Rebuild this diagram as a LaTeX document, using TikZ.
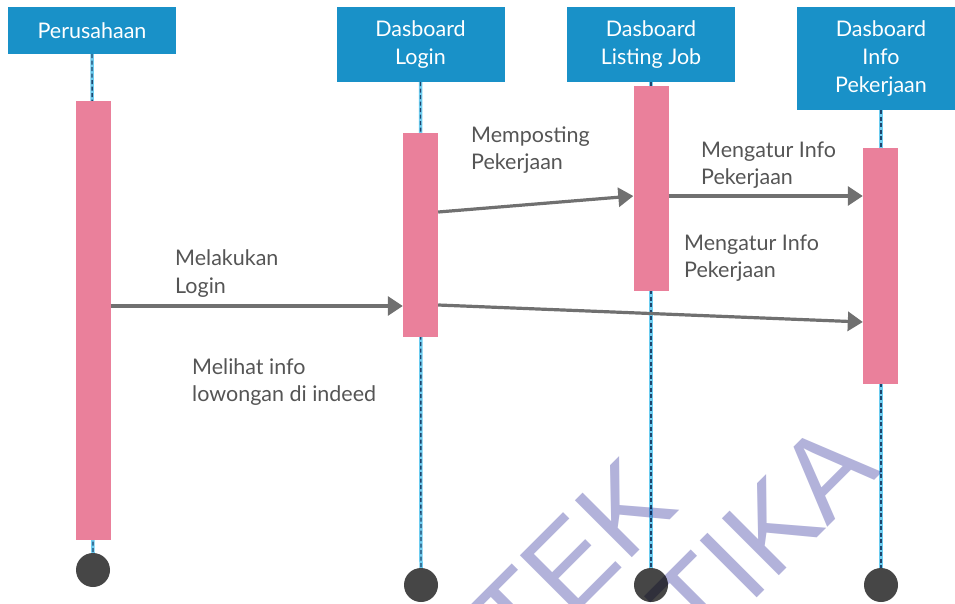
\documentclass[tikz,border=0pt]{standalone}
\usepackage{fontspec}
\setmainfont{Lato}
\newfontfamily\wmfont{Liberation Sans}
\usetikzlibrary{arrows.meta}
\definecolor{hdrblue}{RGB}{25,145,200}
\definecolor{barpink}{RGB}{234,128,155}
\definecolor{msggray}{RGB}{112,112,112}
\definecolor{txtgray}{RGB}{85,85,85}
\definecolor{endgray}{RGB}{70,70,70}
\definecolor{lifecyan}{RGB}{110,205,240}
\definecolor{lifedark}{RGB}{30,70,110}
\definecolor{wmblue}{RGB}{178,178,218}
\tikzset{
 hdr/.style={rectangle, fill=hdrblue, text=white, minimum width=168pt, inner sep=0pt, align=center, font=\fontsize{21.5}{28}\selectfont},
 actbar/.style={rectangle, fill=barpink, minimum width=35pt, inner sep=0pt},
 endpt/.style={circle, fill=endgray, minimum size=34pt, inner sep=0pt},
 lifeglow/.style={draw=lifecyan, line width=3.5pt},
 lifedash/.style={draw=lifedark, line width=1.4pt, dash pattern=on 4pt off 2.5pt},
 msg/.style={draw=msggray, line width=3.2pt, -{Triangle[length=15pt,width=19pt]}},
 lbl/.style={anchor=base west, inner sep=0pt, align=left, text=txtgray, font=\fontsize{21.5}{27.5}\selectfont},
 wm/.style={anchor=base west, inner sep=0pt, text=wmblue, rotate=45, font=\wmfont\fontsize{117}{117}\selectfont}
}
\begin{document}
\begin{tikzpicture}[x=1pt,y=-1pt]
\useasboundingbox (0,0) rectangle (955,603);
\clip (0,0) rectangle (955,603);
\fill[white] (0,0) rectangle (955,603);
% headers
\node[hdr, minimum height=47pt] (h1) at (92,30.5) {Perusahaan};
\node[hdr, minimum height=75pt] (h2) at (420.5,44.5) {Dasboard\\Login};
\node[hdr, minimum height=75pt] (h3) at (651,44.5) {Dasboard\\Listing Job};
\node[hdr, minimum height=103pt] (h4) at (881,58.5) {Dasboard\\Info\\Pekerjaan};
% end points
\node[endpt] (e1) at (93,570) {};
\node[endpt] (e2) at (421,585) {};
\node[endpt] (e3) at (651,585) {};
\node[endpt] (e4) at (881,585) {};
% lifelines
\foreach \i in {1,2,3,4}{
 \draw[lifeglow] (h\i.south) -- (e\i.north);
 \draw[lifedash] (h\i.south) -- (e\i.north);
}
% activation bars
\node[actbar, minimum height=439pt] (b1) at (93,320.5) {};
\node[actbar, minimum height=204pt] (b2) at (420.5,235) {};
\node[actbar, minimum height=205pt] (b3) at (651,188.5) {};
\node[actbar, minimum height=236pt] (b4) at (880.5,266) {};
% messages
\draw[msg] (b1.east |- 0,306) -- (b2.west |- 0,306);
\draw[msg] (b2.east |- 0,212) -- (b3.west |- 0,196);
\draw[msg] (b3.east |- 0,196) -- (b4.west |- 0,196);
\draw[msg] (b2.east |- 0,305) -- (b4.west |- 0,322);
% labels (anchor = baseline of last line)
\node[lbl] (l1) at (175,293) {Melakukan\\Login};
\node[lbl] (l2) at (192,401.5) {Melihat info\\lowongan di indeed};
\node[lbl] (l3) at (471,169.5) {Memposting\\Pekerjaan};
\node[lbl] (l4) at (701,184.5) {Mengatur Info\\Pekerjaan};
\node[lbl] (l5) at (684,277.5) {Mengatur Info\\Pekerjaan};
% watermark
\begin{scope}[blend mode=multiply]
\node[wm] (w1) at (520,670) {TEK};
\node[wm] (w2) at (699,656) {TIKA};
\end{scope}
\end{tikzpicture}
\end{document}
